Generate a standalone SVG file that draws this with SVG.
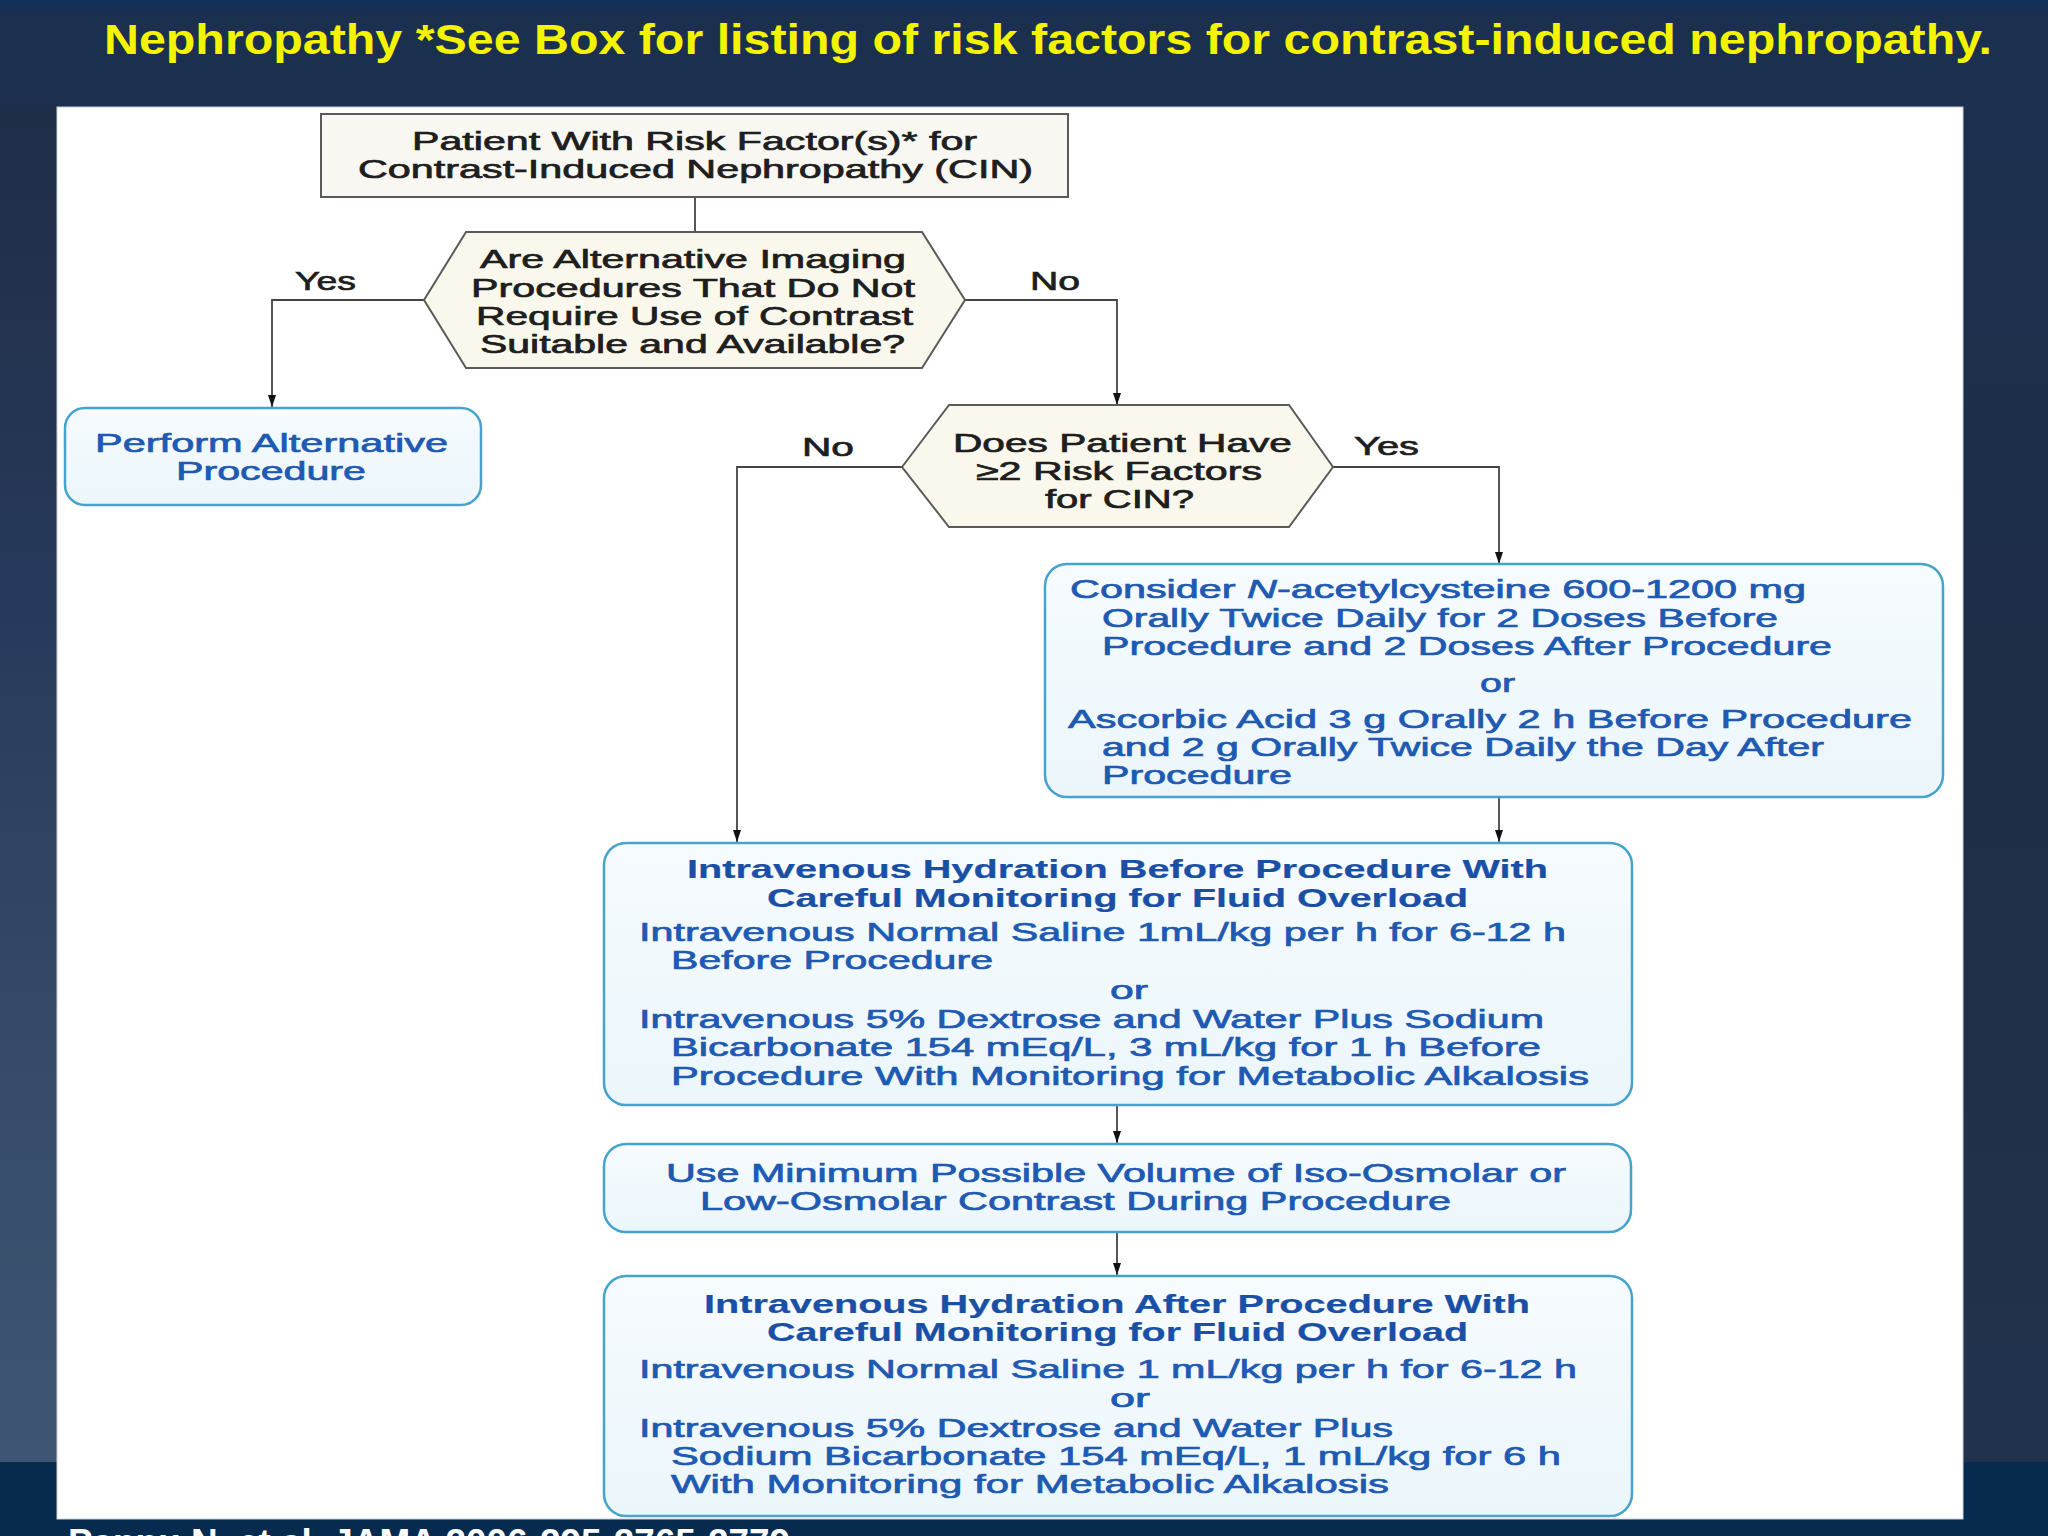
<svg xmlns="http://www.w3.org/2000/svg" width="2048" height="1536" viewBox="0 0 2048 1536">
<defs>
<linearGradient id="bg" x1="0" y1="0" x2="0" y2="1">
<stop offset="0" stop-color="#12305b"/>
<stop offset="0.01" stop-color="#1b2f4f"/>
<stop offset="0.5" stop-color="#1f2e46"/>
<stop offset="1" stop-color="#22334d"/>
</linearGradient>
<linearGradient id="leftside" x1="0" y1="0" x2="0" y2="1">
<stop offset="0" stop-color="#1f2e47"/>
<stop offset="0.35" stop-color="#27395a"/>
<stop offset="0.7" stop-color="#354b69"/>
<stop offset="1" stop-color="#3e5673"/>
</linearGradient>
<linearGradient id="boxfill" x1="0" y1="0" x2="0" y2="1">
<stop offset="0" stop-color="#f6fbfe"/>
<stop offset="1" stop-color="#ebf6fb"/>
</linearGradient>
<marker id="arr" viewBox="0 0 12 8" refX="12" refY="4" markerWidth="12" markerHeight="8" markerUnits="userSpaceOnUse" orient="auto">
<path d="M0,0 L12,4 L0,8 z" fill="#111"/>
</marker>
<style>
.t{font-family:"Liberation Sans",Arial,Helvetica,sans-serif;font-size:26px;stroke-width:0.7px}
.k{fill:#1e1e1e;stroke:#1e1e1e}
.b{fill:#1f5ab2;stroke:#1f5ab2}
.h{fill:#1a4fa6;stroke:#1a4fa6;font-weight:bold;stroke-width:0.2px}
.lbl{fill:#1e1e1e;stroke:#1e1e1e}
.box{fill:url(#boxfill);stroke:#45a3cc;stroke-width:2.5}
.hex{fill:#faf8ec;stroke:#5a5a5a;stroke-width:2}
.rect{fill:#f8f7f1;stroke:#5a5a5a;stroke-width:2}
.con{fill:none;stroke:#444;stroke-width:1.8}
.title{font-family:"Liberation Sans",Arial,Helvetica,sans-serif;font-weight:bold;font-size:42px;fill:#f4f400}
.cap{font-family:"Liberation Sans",Arial,Helvetica,sans-serif;font-weight:bold;font-size:36px;fill:#ffffff}
</style>
</defs>

<!-- background -->
<rect x="0" y="0" width="2048" height="1536" fill="url(#bg)"/>
<rect x="0" y="107" width="57" height="1355" fill="url(#leftside)"/>
<rect x="0" y="1462" width="2048" height="74" fill="#062b4f"/>
<rect x="57" y="107" width="1906" height="1412" fill="#ffffff" stroke="#c9ced6" stroke-width="1"/>

<text class="title" x="104" y="54" textLength="1888" lengthAdjust="spacingAndGlyphs">Nephropathy *See Box for listing of risk factors for contrast-induced nephropathy.</text>
<text class="cap" x="68" y="1555" textLength="722" lengthAdjust="spacingAndGlyphs">Pannu N, et al. JAMA 2006;295:2765-2779</text>

<!-- connectors -->
<g id="connectors">
<path class="con" d="M695,197 L695,232"/>
<path class="con" d="M424,300 L272,300 L272,407" marker-end="url(#arr)"/>
<path class="con" d="M965,300 L1117,300 L1117,405" marker-end="url(#arr)"/>
<path class="con" d="M902,467 L737,467 L737,842" marker-end="url(#arr)"/>
<path class="con" d="M1333,467 L1499,467 L1499,564" marker-end="url(#arr)"/>
<path class="con" d="M1499,797 L1499,842" marker-end="url(#arr)"/>
<path class="con" d="M1117,1105 L1117,1143" marker-end="url(#arr)"/>
<path class="con" d="M1117,1232 L1117,1275" marker-end="url(#arr)"/>
<text class="t lbl" x="295" y="290" textLength="61" lengthAdjust="spacingAndGlyphs">Yes</text>
<text class="t lbl" x="1030" y="290" textLength="50" lengthAdjust="spacingAndGlyphs">No</text>
<text class="t lbl" x="802" y="456" textLength="52" lengthAdjust="spacingAndGlyphs">No</text>
<text class="t lbl" x="1354" y="455" textLength="65" lengthAdjust="spacingAndGlyphs">Yes</text>
</g>

<g id="start">
<rect class="rect" x="321" y="114" width="747" height="83"/>
<text class="t k" x="412" y="150" textLength="565" lengthAdjust="spacingAndGlyphs">Patient With Risk Factor(s)* for</text>
<text class="t k" x="358" y="178" textLength="675" lengthAdjust="spacingAndGlyphs">Contrast-Induced Nephropathy (CIN)</text>
</g>

<g id="q-alternative">
<polygon class="hex" points="424,300 466,232 922,232 965,300 922,368 466,368"/>
<text class="t k" x="480" y="268" textLength="426" lengthAdjust="spacingAndGlyphs">Are Alternative Imaging</text>
<text class="t k" x="471" y="297" textLength="444" lengthAdjust="spacingAndGlyphs">Procedures That Do Not</text>
<text class="t k" x="476" y="325" textLength="437" lengthAdjust="spacingAndGlyphs">Require Use of Contrast</text>
<text class="t k" x="480" y="353" textLength="425" lengthAdjust="spacingAndGlyphs">Suitable and Available?</text>
</g>

<g id="perform-alternative">
<rect class="box" x="65" y="408" width="416" height="97" rx="20"/>
<text class="t b" x="95" y="452" textLength="353" lengthAdjust="spacingAndGlyphs">Perform Alternative</text>
<text class="t b" x="176" y="480" textLength="190" lengthAdjust="spacingAndGlyphs">Procedure</text>
</g>

<g id="q-risk-factors">
<polygon class="hex" points="902,467 949,405 1289,405 1333,467 1289,527 949,527"/>
<text class="t k" x="953" y="452" textLength="339" lengthAdjust="spacingAndGlyphs">Does Patient Have</text>
<text class="t k" x="976" y="480" textLength="286" lengthAdjust="spacingAndGlyphs">≥2 Risk Factors</text>
<text class="t k" x="1045" y="508" textLength="149" lengthAdjust="spacingAndGlyphs">for CIN?</text>
</g>

<g id="nac-ascorbic">
<rect class="box" x="1045" y="564" width="898" height="233" rx="22"/>
<text class="t b" x="1070" y="598" textLength="736" lengthAdjust="spacingAndGlyphs">Consider <tspan font-style="italic">N</tspan>-acetylcysteine 600-1200 mg</text>
<text class="t b" x="1102" y="627" textLength="676" lengthAdjust="spacingAndGlyphs">Orally Twice Daily for 2 Doses Before</text>
<text class="t b" x="1102" y="655" textLength="730" lengthAdjust="spacingAndGlyphs">Procedure and 2 Doses After Procedure</text>
<text class="t b" x="1480" y="692" textLength="35" lengthAdjust="spacingAndGlyphs">or</text>
<text class="t b" x="1068" y="728" textLength="844" lengthAdjust="spacingAndGlyphs">Ascorbic Acid 3 g Orally 2 h Before Procedure</text>
<text class="t b" x="1102" y="756" textLength="722" lengthAdjust="spacingAndGlyphs">and 2 g Orally Twice Daily the Day After</text>
<text class="t b" x="1102" y="784" textLength="190" lengthAdjust="spacingAndGlyphs">Procedure</text>
</g>

<g id="hydration-before">
<rect class="box" x="604" y="843" width="1028" height="262" rx="22"/>
<text class="t h" x="687" y="878" textLength="861" lengthAdjust="spacingAndGlyphs">Intravenous Hydration Before Procedure With</text>
<text class="t h" x="767" y="907" textLength="701" lengthAdjust="spacingAndGlyphs">Careful Monitoring for Fluid Overload</text>
<text class="t b" x="639" y="941" textLength="927" lengthAdjust="spacingAndGlyphs">Intravenous Normal Saline 1mL/kg per h for 6-12 h</text>
<text class="t b" x="671" y="969" textLength="322" lengthAdjust="spacingAndGlyphs">Before Procedure</text>
<text class="t b" x="1110" y="999" textLength="38" lengthAdjust="spacingAndGlyphs">or</text>
<text class="t b" x="639" y="1028" textLength="905" lengthAdjust="spacingAndGlyphs">Intravenous 5% Dextrose and Water Plus Sodium</text>
<text class="t b" x="671" y="1056" textLength="870" lengthAdjust="spacingAndGlyphs">Bicarbonate 154 mEq/L, 3 mL/kg for 1 h Before</text>
<text class="t b" x="671" y="1085" textLength="918" lengthAdjust="spacingAndGlyphs">Procedure With Monitoring for Metabolic Alkalosis</text>
</g>

<g id="minimum-contrast">
<rect class="box" x="604" y="1144" width="1027" height="88" rx="22"/>
<text class="t b" x="666" y="1182" textLength="900" lengthAdjust="spacingAndGlyphs">Use Minimum Possible Volume of Iso-Osmolar or</text>
<text class="t b" x="700" y="1210" textLength="751" lengthAdjust="spacingAndGlyphs">Low-Osmolar Contrast During Procedure</text>
</g>

<g id="hydration-after">
<rect class="box" x="604" y="1276" width="1028" height="240" rx="22"/>
<text class="t h" x="704" y="1313" textLength="826" lengthAdjust="spacingAndGlyphs">Intravenous Hydration After Procedure With</text>
<text class="t h" x="767" y="1341" textLength="701" lengthAdjust="spacingAndGlyphs">Careful Monitoring for Fluid Overload</text>
<text class="t b" x="639" y="1378" textLength="938" lengthAdjust="spacingAndGlyphs">Intravenous Normal Saline 1 mL/kg per h for 6-12 h</text>
<text class="t b" x="1110" y="1407" textLength="40" lengthAdjust="spacingAndGlyphs">or</text>
<text class="t b" x="639" y="1437" textLength="754" lengthAdjust="spacingAndGlyphs">Intravenous 5% Dextrose and Water Plus</text>
<text class="t b" x="671" y="1465" textLength="890" lengthAdjust="spacingAndGlyphs">Sodium Bicarbonate 154 mEq/L, 1 mL/kg for 6 h</text>
<text class="t b" x="671" y="1493" textLength="718" lengthAdjust="spacingAndGlyphs">With Monitoring for Metabolic Alkalosis</text>
</g>
</svg>
